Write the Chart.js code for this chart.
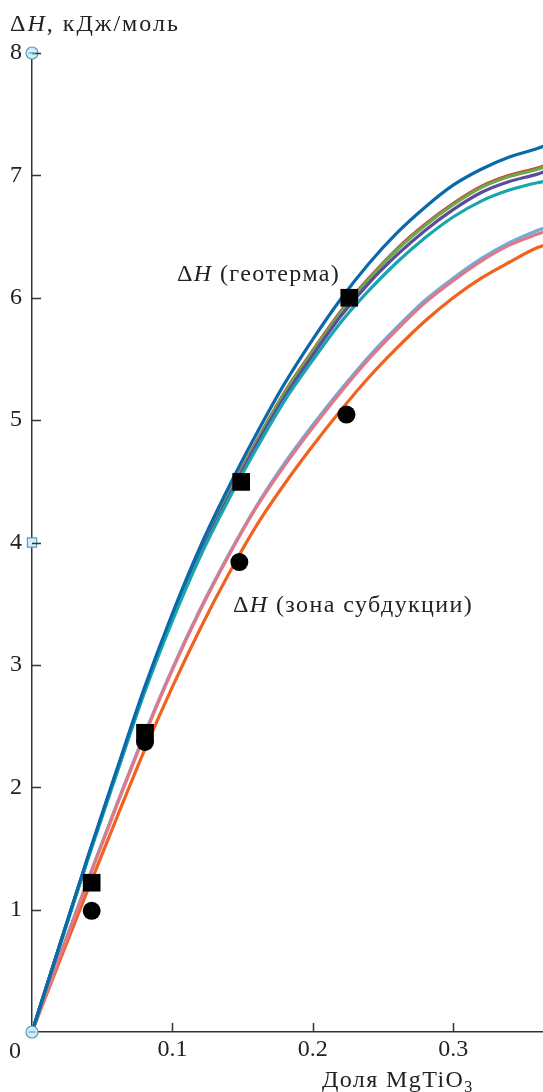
<!DOCTYPE html>
<html>
<head>
<meta charset="utf-8">
<script src="https://cdn.jsdelivr.net/npm/chart.js@4.4.1/dist/chart.umd.min.js"></script>
<style>
  html, body { margin: 0; padding: 0; background: #fff; overflow: hidden; }
  #wrap { width: 543px; height: 1092px; position: relative; }
  #chart { display: block; }
</style>
</head>
<body>
<div id="wrap"><canvas id="chart"></canvas></div>
<script>
// mole fraction of MgTiO3 where the model curves are sampled
var xs = [0, 0.02, 0.04, 0.06, 0.08, 0.10, 0.12, 0.14, 0.16, 0.18, 0.20,
          0.22, 0.24, 0.26, 0.28, 0.30, 0.32, 0.34, 0.36, 0.365];

// ΔH, kJ/mol, upper group (geotherm)
var blueLine   = [0, 0.72, 1.44, 2.13, 2.81, 3.42, 3.97, 4.45, 4.89, 5.30, 5.66, 5.99, 6.28, 6.53, 6.74, 6.92, 7.05, 7.15, 7.22, 7.24];
var redLine    = [0, 0.72, 1.43, 2.12, 2.79, 3.39, 3.93, 4.40, 4.83, 5.23, 5.57, 5.89, 6.16, 6.40, 6.60, 6.77, 6.91, 7.00, 7.06, 7.08];
var greenLine  = [0, 0.72, 1.43, 2.12, 2.79, 3.39, 3.93, 4.39, 4.82, 5.22, 5.56, 5.88, 6.15, 6.39, 6.59, 6.76, 6.90, 6.99, 7.05, 7.07];
var purpleLine = [0, 0.72, 1.43, 2.11, 2.78, 3.38, 3.91, 4.37, 4.80, 5.19, 5.53, 5.85, 6.12, 6.35, 6.55, 6.72, 6.86, 6.95, 7.01, 7.03];
var tealLine   = [0, 0.71, 1.42, 2.10, 2.77, 3.36, 3.89, 4.35, 4.77, 5.16, 5.49, 5.80, 6.06, 6.29, 6.49, 6.66, 6.79, 6.88, 6.94, 6.95];
// lower group (subduction zone)
var lightBlueLine = [0, 0.63, 1.25, 1.85, 2.43, 2.97, 3.46, 3.90, 4.30, 4.65, 4.96, 5.25, 5.52, 5.76, 5.98, 6.16, 6.32, 6.45, 6.55, 6.57];
var pinkLine      = [0, 0.62, 1.24, 1.84, 2.42, 2.96, 3.45, 3.89, 4.29, 4.63, 4.94, 5.23, 5.50, 5.74, 5.96, 6.14, 6.30, 6.43, 6.52, 6.54];
var orangeLine    = [0, 0.59, 1.17, 1.74, 2.30, 2.82, 3.30, 3.74, 4.14, 4.48, 4.79, 5.08, 5.35, 5.59, 5.81, 6.00, 6.16, 6.29, 6.41, 6.43];

// black symbols
var squareX = [0.0425, 0.0805, 0.149, 0.226];
var squareY = [1.22, 2.445, 4.495, 6.00];
var circleX = [0.0425, 0.0805, 0.1477, 0.224];
var circleY = [0.99, 2.37, 3.84, 5.045];

// light blue marks sitting on the y axis
var axisMarkY = [8, 4, 0];
var axisMarkStyle = ['circle', 'rect', 'circle'];

var xTicks = [0, 0.1, 0.2, 0.3];
var xTickLabels = ['', '0.1', '0.2', '0.3'];
var yTicks = [0, 1, 2, 3, 4, 5, 6, 7, 8];
var yTickLabels = ['', '1', '2', '3', '4', '5', '6', '7', '8'];

var serif = "'Liberation Serif', 'DejaVu Serif', serif";

function pairs(xv, yv) {
  return yv.map(function(y, i) { return {x: xv[i], y: y}; });
}

function curve(values, color) {
  return {
    data: pairs(xs, values),
    showLine: true,
    borderColor: color,
    borderWidth: 3.2,
    pointRadius: 0,
    cubicInterpolationMode: 'monotone'
  };
}

var decor = {
  id: 'decor',
  afterDraw: function(chart) {
    var ctx = chart.ctx;
    var sx = chart.scales.x, sy = chart.scales.y;
    var a = chart.chartArea;
    ctx.save();
    ctx.strokeStyle = '#333';
    ctx.lineWidth = 1.5;
    ctx.beginPath();
    yTicks.forEach(function(v) {
      if (v === 0) return;
      var py = Math.round(sy.getPixelForValue(v)) + 0.5;
      ctx.moveTo(a.left, py); ctx.lineTo(a.left + 9, py);
    });
    xTicks.forEach(function(v) {
      if (v === 0) return;
      var px = Math.round(sx.getPixelForValue(v)) + 0.5;
      ctx.moveTo(px, a.bottom); ctx.lineTo(px, a.bottom - 9);
    });
    ctx.stroke();

    // dash inside the round axis marks
    ctx.strokeStyle = '#6fb3d3';
    ctx.lineWidth = 1.5;
    ctx.beginPath();
    [8, 0].forEach(function(v) {
      var py = sy.getPixelForValue(v);
      ctx.moveTo(a.left - 3.5, py); ctx.lineTo(a.left + 3.5, py);
    });
    ctx.stroke();

    ctx.fillStyle = '#222';
    ctx.textBaseline = 'alphabetic';
    ctx.textAlign = 'center';
    ctx.font = '24px ' + serif;
    ctx.fillText('0', 15, 1058);

    ctx.textAlign = 'left';
    function deltaH(x, y, rest, sp) {
      ctx.letterSpacing = sp;
      ctx.font = '24px ' + serif;
      ctx.fillText('\u0394', x, y);
      x += ctx.measureText('\u0394').width;
      ctx.font = 'italic 24px ' + serif;
      ctx.fillText('H', x, y);
      x += ctx.measureText('H').width;
      ctx.font = '24px ' + serif;
      ctx.fillText(rest, x, y);
    }
    deltaH(10, 31, ', кДж/моль', '2px');
    deltaH(177, 281, ' (геотерма)', '1.4px');
    deltaH(233, 612, ' (зона субдукции)', '1.4px');

    ctx.letterSpacing = '1.4px';
    ctx.font = '24px ' + serif;
    var t = 'Доля MgTiO';
    ctx.fillText(t, 322, 1087);
    var w = ctx.measureText(t).width;
    ctx.font = '16px ' + serif;
    ctx.fillText('3', 322 + w, 1092);
    ctx.letterSpacing = '0px';
    ctx.restore();
  }
};

var tickFont = { family: serif, size: 24 };

new Chart(document.getElementById('chart'), {
  type: 'scatter',
  data: {
    datasets: [
      {
        data: axisMarkY.map(function(y) { return {x: 0, y: y}; }),
        pointStyle: axisMarkStyle,
        pointRadius: [6, 6.5, 6],
        backgroundColor: '#d6edf6',
        borderColor: '#4f9fc4',
        borderWidth: 1.2,
        clip: false
      },
      {
        data: pairs(squareX, squareY),
        pointStyle: 'rect',
        pointRadius: 12.5,
        backgroundColor: '#000',
        borderWidth: 0
      },
      {
        data: pairs(circleX, circleY),
        pointStyle: 'circle',
        pointRadius: 9,
        backgroundColor: '#000',
        borderWidth: 0
      },
      curve(blueLine, '#0a69aa'),
      curve(tealLine, '#17a6ad'),
      curve(purpleLine, '#5b4a9e'),
      curve(greenLine, '#6ea84a'),
      curve(redLine, '#c9453b'),
      curve(pinkLine, '#e27788'),
      curve(lightBlueLine, '#6aaedc'),
      curve(orangeLine, '#f2621f')
    ]
  },
  options: {
    responsive: true,
    maintainAspectRatio: false,
    animation: false,
    layout: { autoPadding: false, padding: { top: 53, right: 0, left: 0, bottom: 0 } },
    plugins: { legend: { display: false }, tooltip: { enabled: false } },
    scales: {
      x: {
        type: 'linear',
        min: 0,
        max: 0.364,
        afterBuildTicks: function(s) { s.ticks = xTicks.map(function(v) { return {value: v}; }); },
        afterFit: function(s) { s.height = 60; s.paddingLeft = 0; s.paddingRight = 0; },
        ticks: {
          font: tickFont,
          color: '#222',
          padding: 3,
          maxRotation: 0,
          callback: function(v, i) { return xTickLabels[i]; }
        },
        grid: { display: false, drawTicks: false },
        border: { display: true, color: '#333', width: 1.5 }
      },
      y: {
        type: 'linear',
        min: 0,
        max: 8,
        afterBuildTicks: function(s) { s.ticks = yTicks.map(function(v) { return {value: v}; }); },
        afterFit: function(s) { s.width = 32; s.paddingTop = 0; s.paddingBottom = 0; },
        ticks: {
          font: tickFont,
          color: '#222',
          padding: 10,
          callback: function(v, i) { return yTickLabels[i]; }
        },
        grid: { display: false, drawTicks: false },
        border: { display: true, color: '#333', width: 1.5 }
      }
    }
  },
  plugins: [decor]
});
</script>
</body>
</html>
